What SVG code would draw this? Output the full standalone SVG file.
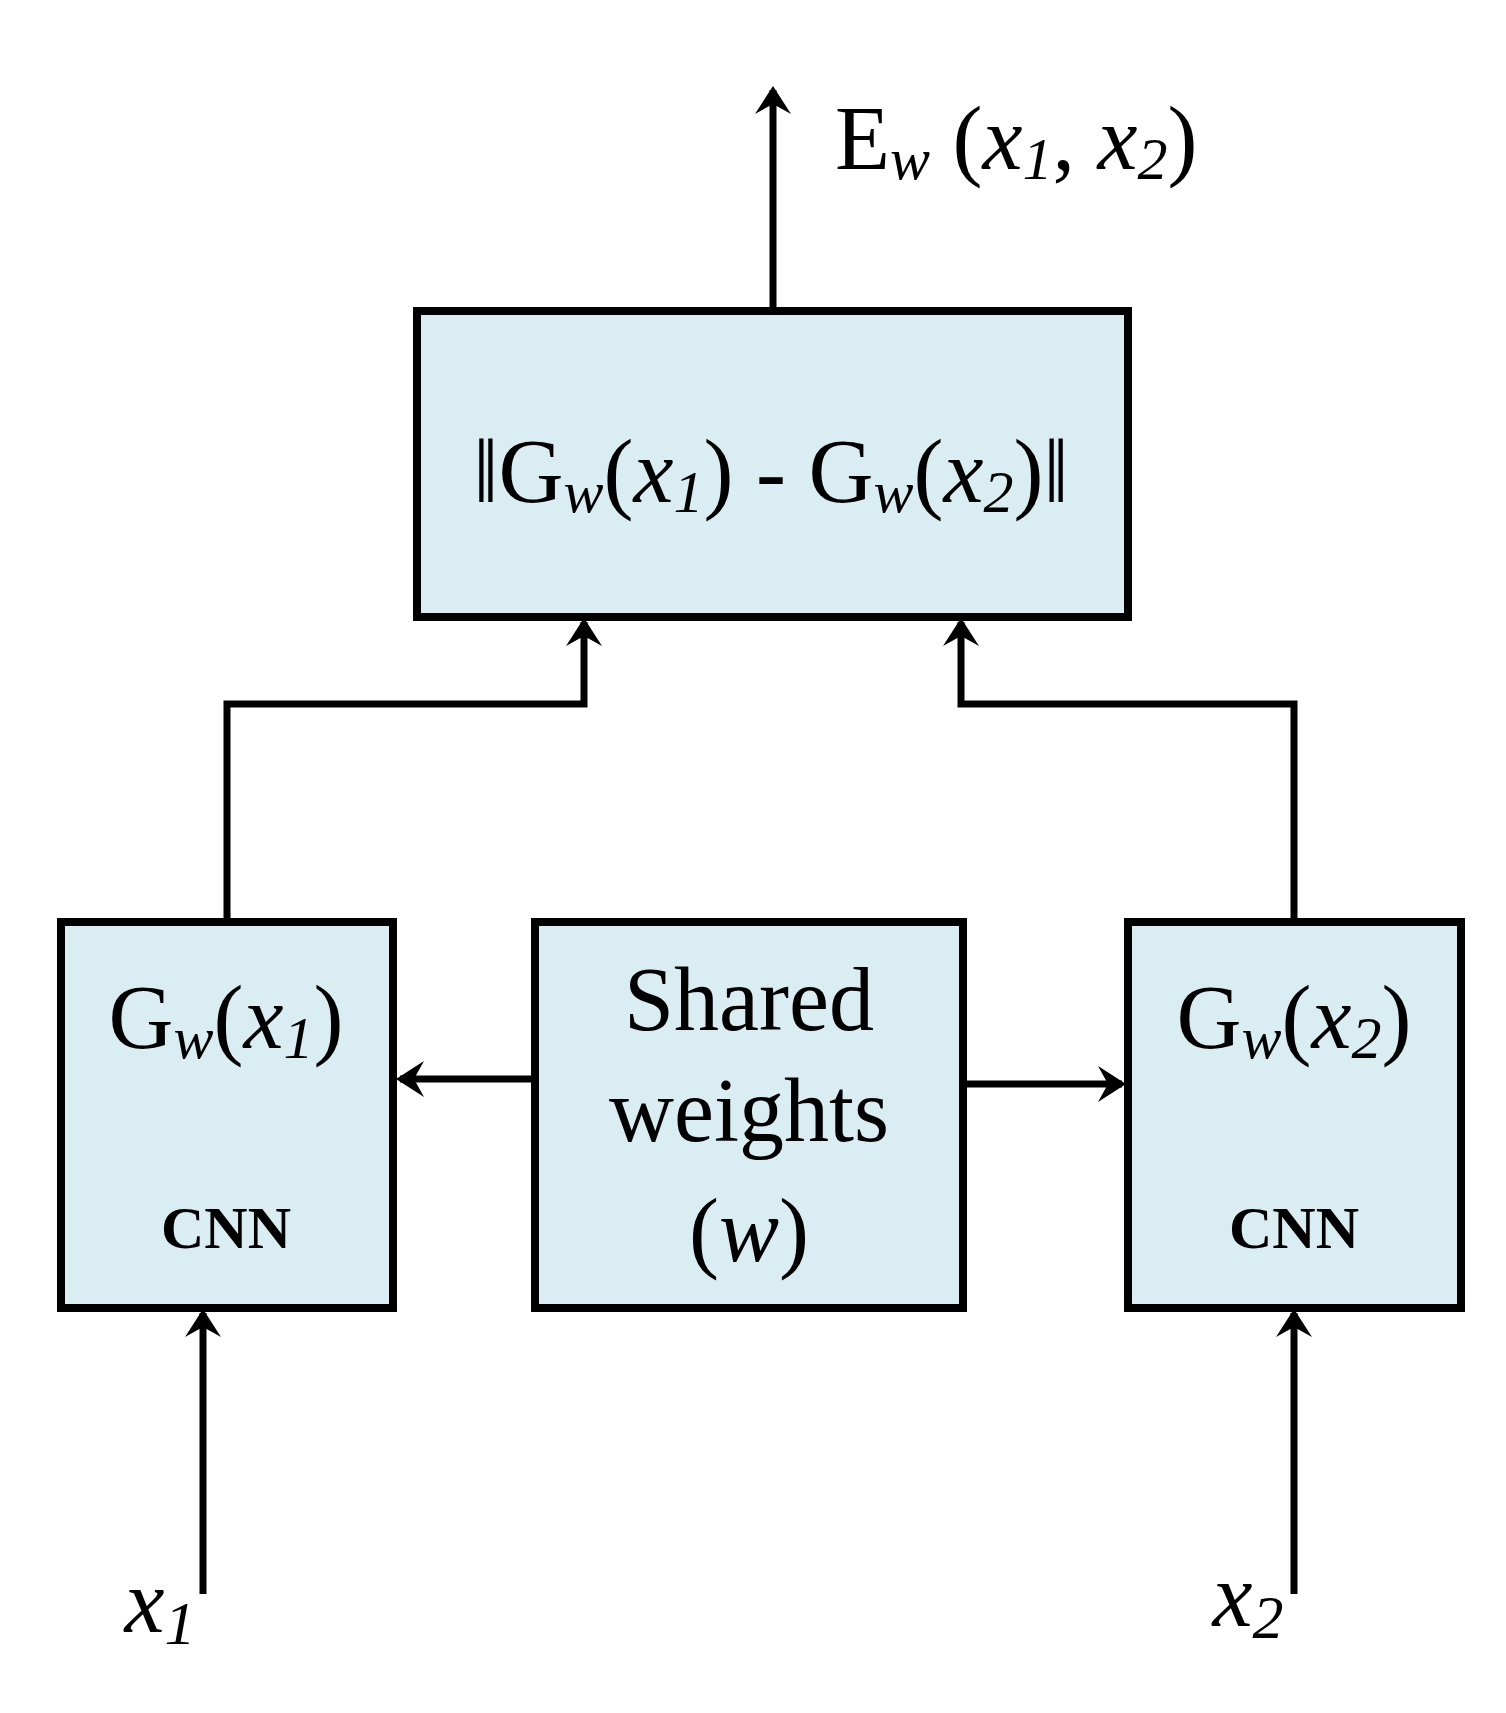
<svg xmlns="http://www.w3.org/2000/svg" width="1506" height="1713" viewBox="0 0 1506 1713">
<style>
.box{fill:#daedf3;stroke:#000;stroke-width:8}
.ln{fill:none;stroke:#000;stroke-width:7;marker-end:url(#ah)}
text{font-family:"Liberation Serif","Times New Roman",serif;fill:#000;text-anchor:middle}
.t{font-size:90px}
.i{font-style:italic}
.s{font-size:60px}
</style>
<defs>
<marker id="ah" markerUnits="userSpaceOnUse" markerWidth="50" markerHeight="50" viewBox="-30 -25 40 50" refX="0" refY="0" orient="auto">
<path d="M4,0 L-24,-18 L-14,0 L-24,18 Z" fill="#000"/>
</marker>
</defs>
<g id="connectors">
<path class="ln" d="M773,310 V90"/>
<path class="ln" d="M227,921 V704 H584 V622"/>
<path class="ln" d="M1294,921 V704 H961 V622"/>
<path class="ln" d="M534,1079 H400"/>
<path class="ln" d="M963,1084 H1122"/>
<path class="ln" d="M203,1594 V1313"/>
<path class="ln" d="M1294,1594 V1313"/>
</g>
<g id="output"><text class="t" x="835" y="169" text-anchor="start" style="text-anchor:start">E<tspan class="i" font-size="60" dy="10">w</tspan><tspan dy="-10"> (</tspan><tspan class="i">x</tspan><tspan class="i" font-size="60" dy="10">1</tspan><tspan dy="-10">, </tspan><tspan class="i">x</tspan><tspan class="i" font-size="60" dy="10">2</tspan><tspan dy="-10">)</tspan></text></g>
<g id="distance"><rect class="box" x="417" y="311" width="711" height="306"/>
<text class="t" x="771" y="502">‖G<tspan class="i" font-size="60" dy="10">w</tspan><tspan dy="-10">(</tspan><tspan class="i">x</tspan><tspan class="i" font-size="60" dy="10">1</tspan><tspan dy="-10">) - G</tspan><tspan class="i" font-size="60" dy="10">w</tspan><tspan dy="-10">(</tspan><tspan class="i">x</tspan><tspan class="i" font-size="60" dy="10">2</tspan><tspan dy="-10">)‖</tspan></text></g>
<g id="cnn1"><rect class="box" x="61" y="922" width="332" height="386"/>
<text class="t" x="226" y="1048">G<tspan class="i" font-size="60" dy="10">w</tspan><tspan dy="-10">(</tspan><tspan class="i">x</tspan><tspan class="i" font-size="60" dy="10">1</tspan><tspan dy="-10">)</tspan></text>
<text class="s" x="226" y="1248" font-weight="bold">CNN</text></g>
<g id="shared"><rect class="box" x="535" y="922" width="428" height="386"/>
<text class="t" x="749" y="1030" font-size="95">Shared</text>
<text class="t" x="749" y="1141" font-size="95">weights</text>
<text class="t" x="749" y="1261" font-size="95">(<tspan class="i">w</tspan>)</text></g>
<g id="cnn2"><rect class="box" x="1128" y="922" width="333" height="386"/>
<text class="t" x="1294" y="1048">G<tspan class="i" font-size="60" dy="10">w</tspan><tspan dy="-10">(</tspan><tspan class="i">x</tspan><tspan class="i" font-size="60" dy="10">2</tspan><tspan dy="-10">)</tspan></text>
<text class="s" x="1294" y="1248" font-weight="bold">CNN</text></g>
<g id="in1"><text class="t i" x="160" y="1632" font-size="95">x<tspan font-size="62" dy="12">1</tspan></text></g>
<g id="in2"><text class="t i" x="1248" y="1626" font-size="95">x<tspan font-size="62" dy="12">2</tspan></text></g>
</svg>
